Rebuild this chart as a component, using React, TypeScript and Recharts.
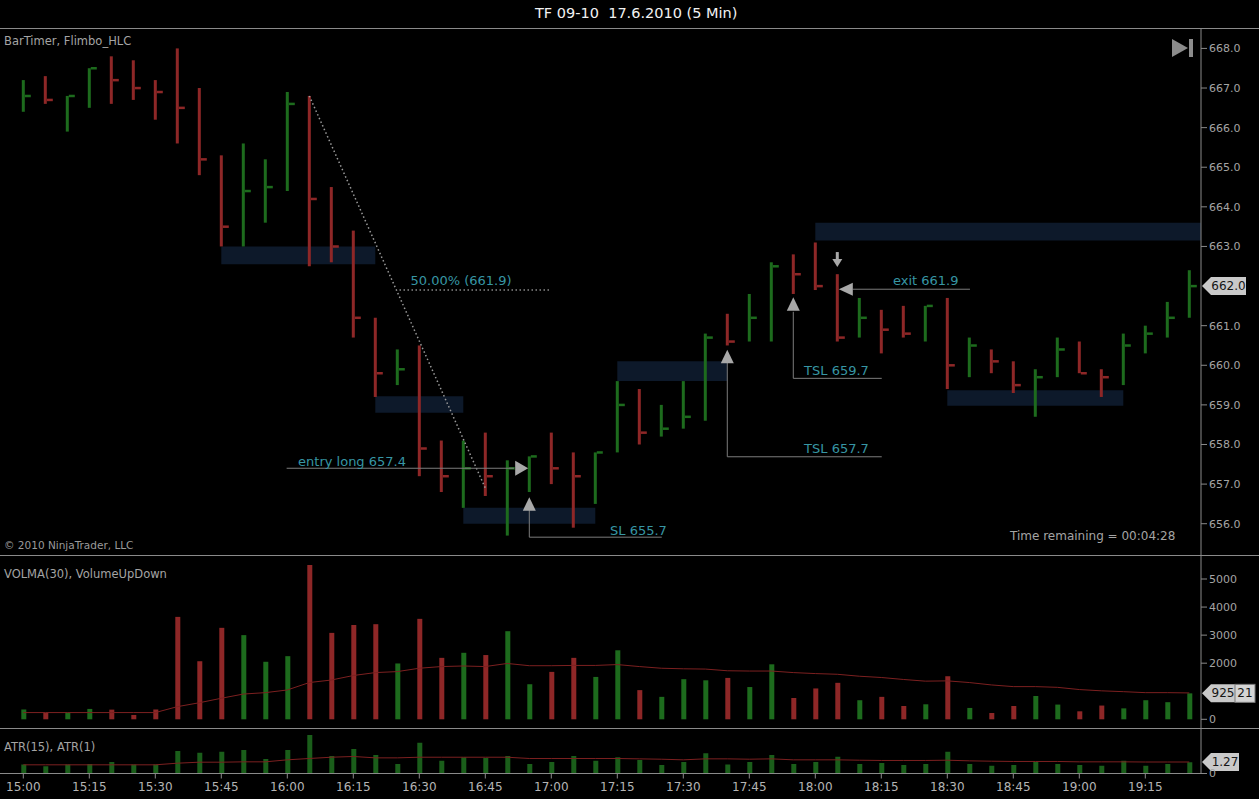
import React from "react";
import {
  Bar,
  Cell,
  ComposedChart,
  Line,
  ReferenceArea,
  ReferenceDot,
  ReferenceLine,
  XAxis,
  YAxis,
} from "recharts";

// 5-minute bars, 15:00 .. 19:25
const times = [
  "15:00", "15:05", "15:10", "15:15", "15:20", "15:25", "15:30", "15:35", "15:40", "15:45",
  "15:50", "15:55", "16:00", "16:05", "16:10", "16:15", "16:20", "16:25", "16:30", "16:35",
  "16:40", "16:45", "16:50", "16:55", "17:00", "17:05", "17:10", "17:15", "17:20", "17:25",
  "17:30", "17:35", "17:40", "17:45", "17:50", "17:55", "18:00", "18:05", "18:10", "18:15",
  "18:20", "18:25", "18:30", "18:35", "18:40", "18:45", "18:50", "18:55", "19:00", "19:05",
  "19:10", "19:15", "19:20", "19:25",
];

const highs = [
  667.2, 667.3, 666.8, 667.5, 667.8, 667.7, 667.2, 668.0, 667.0, 665.3,
  665.6, 665.2, 666.9, 666.8, 664.5, 663.4, 661.2, 660.4, 660.5, 658.1,
  658.1, 658.3, 657.6, 657.7, 658.3, 657.8, 657.8, 659.6, 659.4, 659.0,
  659.6, 660.8, 661.3, 661.8, 662.6, 662.8, 663.1, 662.3, 661.7, 661.4,
  661.5, 661.5, 661.7, 660.7, 660.4, 660.1, 659.9, 660.7, 660.6, 659.9,
  660.8, 661.0, 661.6, 662.4,
];
const lows = [
  666.4, 666.6, 665.9, 666.5, 666.6, 666.7, 666.2, 665.6, 664.8, 663.0,
  663.0, 663.6, 664.4, 662.5, 662.6, 660.7, 659.2, 659.5, 657.2, 656.8,
  656.4, 656.7, 655.7, 656.8, 657.0, 655.9, 656.5, 657.8, 658.0, 658.2,
  658.4, 658.6, 660.5, 660.6, 660.6, 661.8, 661.9, 660.6, 660.7, 660.3,
  660.7, 660.6, 659.4, 659.7, 659.8, 659.3, 658.7, 659.7, 659.8, 659.2,
  659.5, 660.3, 660.7, 661.2,
];
const closes = [
  666.8, 666.7, 666.8, 667.5, 667.2, 667.0, 666.9, 666.5, 665.2, 663.5,
  664.4, 664.5, 666.6, 664.2, 663.0, 661.2, 659.8, 659.9, 657.9, 657.2,
  657.4, 657.2, 657.4, 657.7, 657.4, 657.2, 657.8, 659.0, 658.3, 658.4,
  658.7, 660.7, 660.6, 661.2, 662.5, 662.3, 662.0, 660.7, 661.2, 660.9,
  660.8, 661.5, 660.0, 660.5, 660.1, 659.5, 659.7, 660.4, 659.8, 659.7,
  660.5, 660.8, 661.2, 662.0,
];
// 1 = green (up), 0 = red (down)
const direction = [
  1, 0, 1, 1, 0, 0, 0, 0, 0, 0,
  1, 1, 1, 0, 0, 0, 0, 1, 0, 0,
  1, 0, 1, 1, 0, 0, 1, 1, 0, 1,
  1, 1, 0, 1, 1, 0, 0, 0, 1, 0,
  0, 1, 0, 1, 0, 0, 1, 1, 0, 0,
  1, 1, 1, 1,
];

const volume = [
  350, 225, 240, 370, 345, 155, 350, 3650, 2070, 3260,
  3000, 2050, 2250, 5500, 3080, 3360, 3390, 1990, 3580, 2190,
  2370, 2290, 3140, 1250, 1690, 2190, 1510, 2460, 1040, 800,
  1430, 1390, 1475, 1150, 1960, 760, 1100, 1300, 680, 800,
  475, 535, 1535, 405, 225, 475, 830, 525, 285, 490,
  390, 680, 610, 925,
];
const volma = [
  240, 240, 240, 240, 240, 240, 240, 450, 590, 750,
  900, 950, 1045, 1310, 1400, 1560, 1665, 1700, 1820, 1880,
  1900, 1880, 1990, 1910, 1910, 1920, 1920, 1950, 1880, 1820,
  1800, 1790, 1730, 1720, 1720, 1665, 1630, 1605, 1535, 1490,
  1420, 1360, 1370, 1310, 1225, 1165, 1165, 1140, 1060, 1015,
  985, 950, 950, 940,
];

const atr1 = [
  1.0, 0.8, 1.0, 1.05, 1.27, 1.0, 1.0, 2.5, 2.3, 2.4,
  2.6, 1.6, 2.6, 4.25, 1.93, 2.7, 2.05, 1.05, 3.4, 1.4,
  1.8, 1.7, 1.93, 1.05, 1.27, 1.93, 1.4, 1.8, 1.5, 0.95,
  1.27, 2.25, 1.0, 1.27, 2.05, 1.05, 1.27, 1.85, 1.05, 1.15,
  0.95, 1.05, 2.4, 1.05, 0.85, 0.95, 1.27, 1.05, 0.95, 0.85,
  1.4, 0.85, 1.05, 1.25,
];
const atr15 = [
  0.96, 0.96, 0.96, 0.96, 0.96, 0.96, 0.96, 1.14, 1.25, 1.25,
  1.29, 1.29, 1.51, 1.66, 1.8, 1.88, 1.73, 1.73, 1.8, 1.8,
  1.8, 1.8, 1.8, 1.66, 1.66, 1.66, 1.66, 1.66, 1.62, 1.58,
  1.51, 1.62, 1.62, 1.58, 1.62, 1.51, 1.51, 1.51, 1.47, 1.44,
  1.44, 1.44, 1.47, 1.4, 1.36, 1.33, 1.33, 1.33, 1.29, 1.29,
  1.29, 1.27, 1.27, 1.27,
];

// 662.0 sits under the last-price tag, so it has no axis label of its own
const priceTicks = [656, 657, 658, 659, 660, 661, 663, 664, 665, 666, 667, 668];
const volumeTicks = [0, 2000, 3000, 4000, 5000];
const atrTicks = [0];

// annotation values (bar index, price)
const X_MIN = -1.059;
const X_MAX = 53.532;
const zones = [
  { from: 9, to: 16, lo: 662.55, hi: 663.0 },
  { from: 16, to: 20, lo: 658.8, hi: 659.22 },
  { from: 20, to: 26, lo: 656.0, hi: 656.4 },
  { from: 27, to: 32, lo: 659.6, hi: 660.1 },
  { from: 36, to: X_MAX, lo: 663.15, hi: 663.6 },
  { from: 42, to: 50, lo: 658.98, hi: 659.37 },
];
const fibSwing = [
  { x: 13, y: 666.8 },
  { x: 21, y: 656.9 },
];
const fibLevel = [
  { x: 17.1, y: 661.9 },
  { x: 24.0, y: 661.9 },
];
const tradeLines = [
  [{ x: 11.97, y: 657.4 }, { x: 22.3, y: 657.4 }],
  [{ x: 23, y: 656.35 }, { x: 23, y: 655.66 }],
  [{ x: 23, y: 655.66 }, { x: 29.02, y: 655.66 }],
  [{ x: 32, y: 660.06 }, { x: 32, y: 657.69 }],
  [{ x: 32, y: 657.69 }, { x: 39.02, y: 657.69 }],
  [{ x: 35, y: 661.35 }, { x: 35, y: 659.67 }],
  [{ x: 35, y: 659.67 }, { x: 39.02, y: 659.67 }],
  [{ x: 37.7, y: 661.92 }, { x: 43.03, y: 661.92 }],
];
const arrows = [
  { kind: "right", x: 22.95, y: 657.4 },
  { kind: "up", x: 23, y: 656.67 },
  { kind: "up", x: 32, y: 660.39 },
  { kind: "up", x: 35, y: 661.72 },
  { kind: "down", x: 37, y: 662.48 },
  { kind: "left", x: 37.07, y: 661.92 },
];
const notes = [
  { text: "50.00% (661.9)", x: 17.6, y: 662.13 },
  { text: "entry long 657.4", x: 12.49, y: 657.56 },
  { text: "SL 655.7", x: 26.67, y: 655.82 },
  { text: "TSL 657.7", x: 35.49, y: 657.91 },
  { text: "TSL 659.7", x: 35.49, y: 659.86 },
  { text: "exit 661.9", x: 39.53, y: 662.13 },
];

const FONT = "'DejaVu Sans', Verdana, sans-serif";
const UP = "#1d6b1d";
const DOWN = "#8e2727";
const AXIS = "#8a8a8a";
const LABEL = "#a4a4a4";
const TEAL = "#3796a4";
const MARK = "#a8a8a8";
const PAD = { left: 12.3, right: 0.7 };
const MARGIN = { top: 0, right: 0, bottom: 0, left: 0 };

const rows = times.map((t, i) => ({
  t,
  i,
  hl: [lows[i], highs[i]],
  h: highs[i],
  l: lows[i],
  c: closes[i],
  up: direction[i] === 1,
  vol: volume[i],
  volma: volma[i],
  atr1: atr1[i],
  atr15: atr15[i],
}));

const HlcBar = (props: any) => {
  const { x, y, width, height, payload } = props;
  if (!payload) return null;
  const cx = x + width / 2;
  const span = payload.h - payload.l || 1;
  const cy = y + ((payload.h - payload.c) / span) * height;
  const color = payload.up ? UP : DOWN;
  return (
    <g>
      <rect x={cx - 1.5} y={y} width={3} height={Math.max(height, 1)} fill={color} />
      <rect x={cx + 1.5} y={cy - 1.2} width={6} height={2.5} fill={color} />
    </g>
  );
};

const arrowShape = (kind: string) => (p: any) => {
  const { cx, cy } = p;
  if (kind === "right")
    return <polygon points={`${cx},${cy} ${cx - 13},${cy - 7.5} ${cx - 13},${cy + 7.5}`} fill={MARK} />;
  if (kind === "left")
    return <polygon points={`${cx},${cy} ${cx + 14},${cy - 6.5} ${cx + 14},${cy + 6.5}`} fill={MARK} />;
  if (kind === "up")
    return <polygon points={`${cx},${cy} ${cx - 6.5},${cy + 13.5} ${cx + 6.5},${cy + 13.5}`} fill={MARK} />;
  return (
    <g fill={MARK}>
      <rect x={cx - 1.5} y={cy - 15} width={3} height={8} />
      <polygon points={`${cx},${cy} ${cx - 5},${cy - 8} ${cx + 5},${cy - 8}`} />
    </g>
  );
};

const noteShape = (text: string) => (p: any) => (
  <text x={p.cx} y={p.cy} fill={TEAL} fontSize={13} fontFamily={FONT} dominantBaseline="central">
    {text}
  </text>
);

const tagShape = (text: string, extra?: string, w = 45) => (p: any) => {
  const { cx } = p;
  const cy = p.cy;
  return (
    <g fontFamily={FONT} fontSize={12}>
      <polygon
        points={`${cx + 1},${cy} ${cx + 10},${cy - 9} ${cx + w},${cy - 9} ${cx + w},${cy + 9} ${cx + 10},${cy + 9}`}
        fill="#c9c9c9"
      />
      <text x={cx + 10 + (w - 10) / 2} y={cy} textAnchor="middle" dominantBaseline="central" fill="#151515">
        {text}
      </text>
      {extra ? (
        <g>
          <rect x={cx + w} y={cy - 9} width={20} height={18} fill="#d4d4d4" stroke="#7a7a7a" />
          <text x={cx + w + 10} y={cy} textAnchor="middle" dominantBaseline="central" fill="#151515">
            {extra}
          </text>
        </g>
      ) : null}
    </g>
  );
};

const yTick = { fill: LABEL, fontSize: 11, fontFamily: FONT };

export default function App() {
  const last = rows[rows.length - 1];
  return (
    <div
      style={{
        position: "absolute",
        left: 0,
        top: 0,
        width: 1259,
        height: 799,
        background: "#000",
        overflow: "hidden",
        fontFamily: FONT,
      }}
    >
      <div style={{ position: "absolute", left: 535, top: 5, color: "#f2f2f2", fontSize: 14.5, whiteSpace: "pre", lineHeight: "16px" }}>
        TF 09-10  17.6.2010 (5 Min)
      </div>
      <div style={{ position: "absolute", left: 0, top: 28, width: 1259, height: 1, background: AXIS }} />
      <div style={{ position: "absolute", left: 0, top: 555, width: 1259, height: 1, background: AXIS }} />
      <div style={{ position: "absolute", left: 0, top: 728, width: 1259, height: 1, background: AXIS }} />

      {/* price panel */}
      <div style={{ position: "absolute", left: 0, top: 29 }}>
        <ComposedChart width={1259} height={526} data={rows} margin={MARGIN}>
          <XAxis xAxisId="cat" dataKey="t" type="category" hide padding={PAD} />
          <XAxis xAxisId="num" dataKey="i" type="number" hide domain={[X_MIN, X_MAX]} allowDataOverflow />
          <YAxis
            yAxisId="p"
            orientation="right"
            width={58}
            domain={[655.21, 668.49]}
            allowDataOverflow
            ticks={priceTicks}
            tickFormatter={(v: number) => v.toFixed(1)}
            tick={yTick}
            tickSize={6}
            tickMargin={2}
            axisLine={{ stroke: AXIS }}
            tickLine={{ stroke: AXIS }}
          />
          <Bar xAxisId="cat" yAxisId="p" dataKey="hl" barSize={8} shape={<HlcBar />} isAnimationActive={false} />
          {zones.map((z, k) => (
            <ReferenceArea
              key={`z${k}`}
              xAxisId="num"
              yAxisId="p"
              x1={z.from}
              x2={z.to}
              y1={z.lo}
              y2={z.hi}
              fill="#1e3c64"
              fillOpacity={0.42}
              stroke="none"
            />
          ))}
          <ReferenceLine xAxisId="num" yAxisId="p" segment={fibSwing} stroke="#9a9a9a" strokeWidth={1.5} strokeDasharray="1.5 2.5" />
          <ReferenceLine xAxisId="num" yAxisId="p" segment={fibLevel} stroke="#8a8a8a" strokeWidth={1.5} strokeDasharray="1.5 2.5" />
          {tradeLines.map((s, k) => (
            <ReferenceLine key={`l${k}`} xAxisId="num" yAxisId="p" segment={s} stroke="#7c7c7c" strokeWidth={1} />
          ))}
          {arrows.map((a, k) => (
            <ReferenceDot key={`a${k}`} xAxisId="num" yAxisId="p" x={a.x} y={a.y} r={0} shape={arrowShape(a.kind)} />
          ))}
          {notes.map((n, k) => (
            <ReferenceDot key={`n${k}`} xAxisId="num" yAxisId="p" x={n.x} y={n.y} r={0} shape={noteShape(n.text)} />
          ))}
          <ReferenceDot
            xAxisId="num"
            yAxisId="p"
            x={X_MAX}
            y={last.c}
            r={0}
            ifOverflow="visible"
            shape={tagShape(last.c.toFixed(1))}
          />
        </ComposedChart>
      </div>
      <div style={{ position: "absolute", left: 4, top: 34, color: LABEL, fontSize: 11.5 }}>BarTimer, Flimbo_HLC</div>
      <div style={{ position: "absolute", left: 4, top: 539, color: "#9a9a9a", fontSize: 10.5 }}>© 2010 NinjaTrader, LLC</div>
      <div style={{ position: "absolute", left: 1010, top: 529, color: LABEL, fontSize: 12 }}>Time remaining = 00:04:28</div>
      <svg style={{ position: "absolute", left: 1170, top: 36 }} width={26} height={24}>
        <polygon points="2,3 2,21 18,12" fill="#8c8c8c" />
        <rect x={19} y={3} width={4} height={18} fill="#8c8c8c" />
      </svg>

      {/* volume panel */}
      <div style={{ position: "absolute", left: 0, top: 556 }}>
        <ComposedChart width={1259} height={172} data={rows} margin={MARGIN}>
          <XAxis xAxisId="cat" dataKey="t" type="category" hide padding={PAD} />
          <XAxis xAxisId="num" dataKey="i" type="number" hide domain={[X_MIN, X_MAX]} allowDataOverflow />
          <YAxis
            yAxisId="v"
            orientation="right"
            width={58}
            domain={[-310, 5820]}
            allowDataOverflow
            ticks={volumeTicks}
            tick={yTick}
            tickSize={6}
            tickMargin={2}
            axisLine={{ stroke: AXIS }}
            tickLine={{ stroke: AXIS }}
          />
          <Bar xAxisId="cat" yAxisId="v" dataKey="vol" barSize={5} isAnimationActive={false}>
            {rows.map((r) => (
              <Cell key={r.t} fill={r.up ? UP : DOWN} />
            ))}
          </Bar>
          <Line
            xAxisId="cat"
            yAxisId="v"
            dataKey="volma"
            stroke="#7c2020"
            strokeWidth={1}
            dot={false}
            activeDot={false}
            isAnimationActive={false}
          />
          <ReferenceDot
            xAxisId="num"
            yAxisId="v"
            x={X_MAX}
            y={last.vol}
            r={0}
            ifOverflow="visible"
            shape={tagShape(String(last.vol), "21", 34)}
          />
        </ComposedChart>
      </div>
      <div style={{ position: "absolute", left: 4, top: 567, color: LABEL, fontSize: 11.5 }}>VOLMA(30), VolumeUpDown</div>

      {/* ATR panel */}
      <div style={{ position: "absolute", left: 0, top: 729 }}>
        <ComposedChart width={1259} height={70} data={rows} margin={MARGIN}>
          <XAxis
            xAxisId="cat"
            dataKey="t"
            type="category"
            padding={PAD}
            interval={2}
            height={25.5}
            tickSize={5}
            tickMargin={4}
            tick={{ fill: "#b4b4b4", fontSize: 12, fontFamily: FONT }}
            axisLine={{ stroke: AXIS }}
            tickLine={{ stroke: AXIS }}
          />
          <XAxis xAxisId="num" dataKey="i" type="number" hide domain={[X_MIN, X_MAX]} allowDataOverflow />
          <YAxis
            yAxisId="a"
            orientation="right"
            width={58}
            domain={[0, 4.92]}
            allowDataOverflow
            ticks={atrTicks}
            tick={yTick}
            tickSize={6}
            tickMargin={2}
            axisLine={{ stroke: AXIS }}
            tickLine={{ stroke: AXIS }}
          />
          <Bar xAxisId="cat" yAxisId="a" dataKey="atr1" barSize={5} fill="#1a5e1a" isAnimationActive={false} />
          <Line
            xAxisId="cat"
            yAxisId="a"
            dataKey="atr15"
            stroke="#7c2020"
            strokeWidth={1}
            dot={false}
            activeDot={false}
            isAnimationActive={false}
          />
          <ReferenceDot
            xAxisId="num"
            yAxisId="a"
            x={X_MAX}
            y={last.atr15}
            r={0}
            ifOverflow="visible"
            shape={tagShape(last.atr15.toFixed(2), undefined, 38)}
          />
        </ComposedChart>
      </div>
      <div style={{ position: "absolute", left: 4, top: 740, color: LABEL, fontSize: 11.5 }}>ATR(15), ATR(1)</div>
    </div>
  );
}
